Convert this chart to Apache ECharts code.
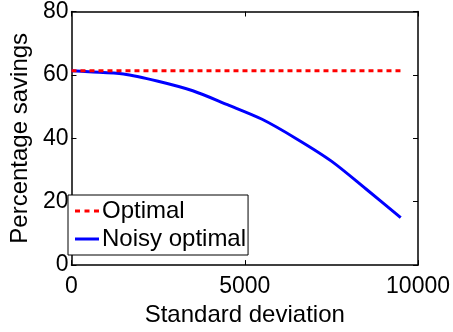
<!DOCTYPE html>
<html>
<head>
<meta charset="utf-8">
<script src="https://cdn.jsdelivr.net/npm/echarts@6/dist/echarts.min.js"></script>
<style>
  html, body { margin: 0; padding: 0; background: #fff; }
  #chart { width: 453px; height: 332px; }
</style>
</head>
<body>
<div id="chart"></div>
<script>
// values
const stdDev = [0, 500, 1500, 2500, 3500, 4500, 5500, 6500, 7500, 8500, 9500];
const optimal = [61.3, 61.3, 61.3, 61.3, 61.3, 61.3, 61.3, 61.3, 61.3, 61.3, 61.3];
const noisyOptimal = [61.3, 61.0, 60.3, 58.0, 55.0, 50.6, 46.0, 39.8, 32.8, 24.0, 15.0];
const xTicks = [0, 5000, 10000];
const yTicks = [0, 20, 40, 60, 80];

const font = 'Liberation Sans, Arial, sans-serif';

function pairs(xs, ys) {
  return xs.map((x, i) => [x, ys[i]]);
}

const chart = echarts.init(document.getElementById('chart'), null, { renderer: 'canvas' });

const axisCommon = {
  type: 'value',
  axisLine: { show: true, onZero: false, lineStyle: { color: '#000', width: 1.5 } },
  axisTick: { show: true, inside: true, length: 5, lineStyle: { color: '#000' } },
  splitLine: { show: false }
};

chart.setOption({
  backgroundColor: '#fff',
  animation: false,
  textStyle: { fontFamily: font, color: '#000' },
  grid: { left: 65, right: 32, top: 10, bottom: 54 },
  legend: {
    left: 68,
    top: 195,
    orient: 'vertical',
    data: [
      { name: 'Optimal', icon: 'path://M0,0h5v3h-5z M9.5,0h5v3h-5z M19,0h5v3h-5z' },
      { name: 'Noisy optimal', icon: 'path://M0,0h24v3h-24z' }
    ],
    itemWidth: 24,
    itemHeight: 3,
    itemGap: 4,
    padding: [4, 2, 4, 7],
    borderColor: '#000',
    borderWidth: 1,
    backgroundColor: '#fff',
    borderRadius: 0,
    textStyle: { fontFamily: font, fontSize: 24, color: '#000', padding: [0, 0, 0, -2] }
  },
  xAxis: [
    Object.assign({}, axisCommon, {
      min: xTicks[0],
      max: xTicks[xTicks.length - 1],
      interval: xTicks[1] - xTicks[0],
      name: 'Standard deviation',
      nameLocation: 'middle',
      nameGap: 25,
      nameTextStyle: { fontFamily: font, fontSize: 24, color: '#000', verticalAlign: 'top' },
      axisLabel: { color: '#000', fontSize: 23, fontFamily: font, margin: 10, formatter: v => String(v) }
    }),
    Object.assign({}, axisCommon, {
      position: 'top',
      min: xTicks[0],
      max: xTicks[xTicks.length - 1],
      interval: xTicks[1] - xTicks[0],
      axisLabel: { show: false }
    })
  ],
  yAxis: [
    Object.assign({}, axisCommon, {
      min: yTicks[0],
      max: yTicks[yTicks.length - 1],
      interval: yTicks[1] - yTicks[0],
      name: 'Percentage savings',
      nameLocation: 'middle',
      nameGap: 29,
      nameTextStyle: { fontFamily: font, fontSize: 24, color: '#000' },
      axisLabel: { color: '#000', fontSize: 23, fontFamily: font, margin: 3 }
    }),
    Object.assign({}, axisCommon, {
      position: 'right',
      min: yTicks[0],
      max: yTicks[yTicks.length - 1],
      interval: yTicks[1] - yTicks[0],
      axisLabel: { show: false }
    })
  ],
  series: [
    {
      name: 'Optimal',
      type: 'line',
      data: pairs(stdDev, optimal),
      showSymbol: false,
      symbol: 'none',
      z: 3,
      lineStyle: { color: '#ff0000', width: 3, type: [5, 4] },
      itemStyle: { color: '#ff0000' }
    },
    {
      name: 'Noisy optimal',
      type: 'line',
      data: pairs(stdDev, noisyOptimal),
      showSymbol: false,
      symbol: 'none',
      smooth: 0.3,
      z: 2,
      lineStyle: { color: '#0000ff', width: 3 },
      itemStyle: { color: '#0000ff' }
    }
  ]
});
</script>
</body>
</html>
